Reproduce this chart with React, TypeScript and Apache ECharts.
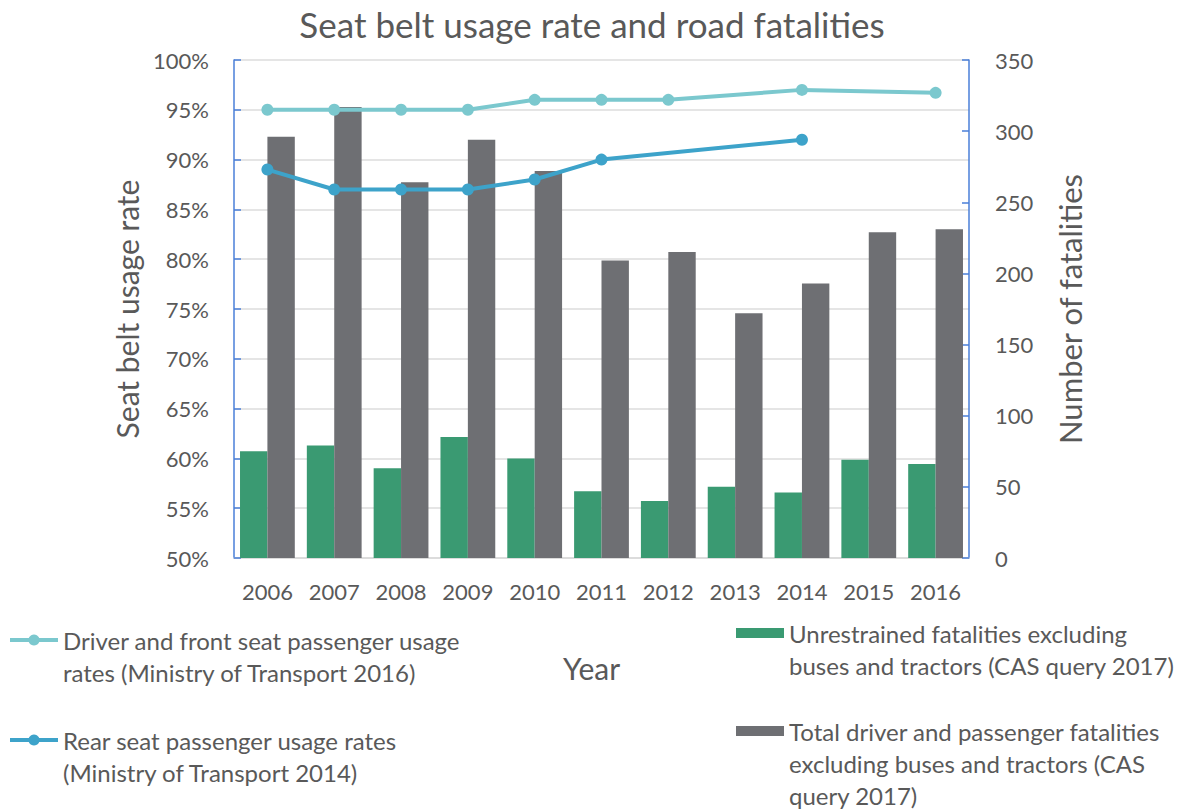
import React, { useEffect, useRef } from "react";
import * as echarts from "echarts";

const years = ["2006", "2007", "2008", "2009", "2010", "2011", "2012", "2013", "2014", "2015", "2016"];
const frontSeatRate = [95, 95, 95, 95, 96, 96, 96, null, 97, null, 96.7];
const rearSeatRate = [89, 87, 87, 87, 88, 90, null, null, 92, null, null];
const unrestrainedFatalities = [75, 79, 63, 85, 70, 47, 40, 50, 46, 69, 66];
const totalFatalities = [296, 317, 264, 294, 272, 209, 215, 172, 193, 229, 231];

const nameFront = "Driver and front seat passenger usage rates (Ministry of Transport 2016)";
const nameRear = "Rear seat passenger usage rates (Ministry of Transport 2014)";
const nameUnres = "Unrestrained fatalities excluding buses and tractors (CAS query 2017)";
const nameTotal = "Total driver and passenger fatalities excluding buses and tractors (CAS query 2017)";

const legendLines: Record<string, string[]> = {
  [nameFront]: ["Driver and front seat passenger usage", "rates (Ministry of Transport 2016)"],
  [nameRear]: ["Rear seat passenger usage rates", "(Ministry of Transport 2014)"],
  [nameUnres]: ["Unrestrained fatalities excluding", "buses and tractors (CAS query 2017)"],
  [nameTotal]: ["Total driver and passenger fatalities", "excluding buses and tractors (CAS", "query 2017)"],
};

const FONT = "Lato, 'Open Sans', sans-serif";
const TXT = "#595959";
const AXIS_BLUE = "#4A7FD9";
const LH = 32;
const FRONT_COLOR = "#7BC8CE";
const REAR_COLOR = "#3DA3CA";

function legendFor(name: string, left: number, iconCenterY: number, icon: string | undefined, w: number, h: number) {
  const lines = legendLines[name];
  const k = lines.length;
  const blanks = new Array(k - 1).fill(" ");
  return {
    data: [icon ? { name, icon } : { name }],
    left,
    top: iconCenterY - ((2 * k - 1) * LH) / 2,
    padding: 0,
    itemWidth: w,
    itemHeight: h,
    orient: "vertical",
    selectedMode: false,
    lineStyle: { width: 4 },
    formatter: () => [...blanks, ...lines].join("\n"),
    textStyle: {
      fontFamily: FONT,
      fontSize: 24,
      color: TXT,
      lineHeight: LH,
    },
  };
}

export default function App() {
  const ref = useRef<HTMLDivElement>(null);
  useEffect(() => {
    if (!ref.current) return;
    const chart = echarts.init(ref.current, undefined, { renderer: "svg" });
    chart.setOption({
      animation: false,
      backgroundColor: "#ffffff",
      textStyle: { fontFamily: FONT },
      title: {
        text: "Seat belt usage rate and road fatalities",
        left: "center",
        top: 1,
        textStyle: { fontFamily: FONT, fontSize: 35, fontWeight: "normal", color: TXT },
      },
      legend: [
        legendFor(nameFront, 8, 640, undefined, 48, 14),
        legendFor(nameRear, 8, 740, undefined, 48, 14),
        legendFor(nameUnres, 736, 633, "rect", 48, 10),
        legendFor(nameTotal, 736, 731, "rect", 48, 10),
      ],
      grid: { left: 234, right: 215, top: 60, bottom: 252, containLabel: false },
      xAxis: {
        type: "category",
        data: years,
        name: "Year",
        nameLocation: "middle",
        nameGap: 95,
        nameTextStyle: { fontFamily: FONT, fontSize: 30, color: TXT, padding: [0, 20, 0, 0] },
        axisLine: { lineStyle: { color: "#D9D9D9", width: 1.5 } },
        axisTick: { show: false },
        axisLabel: { interval: 0, fontFamily: FONT, fontSize: 22, color: TXT, margin: 22 },
      },
      yAxis: [
        {
          type: "value",
          min: 50,
          max: 100,
          interval: 5,
          name: "Seat belt usage rate",
          nameLocation: "middle",
          nameGap: 86,
          nameTextStyle: { fontFamily: FONT, fontSize: 30, color: TXT },
          axisLine: { show: true, lineStyle: { color: AXIS_BLUE, width: 1.5 } },
          axisTick: { show: true, inside: true, length: 7, lineStyle: { color: AXIS_BLUE, width: 1.5 } },
          axisLabel: { formatter: "{value}%", fontFamily: FONT, fontSize: 22, color: TXT, margin: 25 },
          splitLine: { show: true, lineStyle: { color: "#DDDDDD", width: 1.5 } },
        },
        {
          type: "value",
          min: 0,
          max: 350,
          interval: 50,
          position: "right",
          name: "Number of fatalities",
          nameLocation: "middle",
          nameGap: 85,
          nameRotate: 90,
          nameTextStyle: { fontFamily: FONT, fontSize: 31, color: TXT },
          axisLine: { show: true, lineStyle: { color: AXIS_BLUE, width: 1.5 } },
          axisTick: { show: true, inside: true, length: 7, lineStyle: { color: AXIS_BLUE, width: 1.5 } },
          axisLabel: { fontFamily: FONT, fontSize: 22, color: TXT, margin: 26 },
          splitLine: { show: false },
        },
      ],
      series: [
        {
          name: nameUnres,
          type: "bar",
          yAxisIndex: 1,
          data: unrestrainedFatalities,
          barGap: "0%",
          barCategoryGap: "18%",
          itemStyle: { color: "#3A9A72" },
          z: 2,
        },
        {
          name: nameTotal,
          type: "bar",
          yAxisIndex: 1,
          data: totalFatalities,
          barGap: "0%",
          barCategoryGap: "18%",
          itemStyle: { color: "#6E6F73" },
          z: 2,
        },
        {
          name: nameFront,
          type: "line",
          yAxisIndex: 0,
          data: frontSeatRate,
          connectNulls: true,
          symbol: "circle",
          symbolSize: 12,
          lineStyle: { color: FRONT_COLOR, width: 4 },
          itemStyle: { color: FRONT_COLOR },
          z: 5,
        },
        {
          name: nameRear,
          type: "line",
          yAxisIndex: 0,
          data: rearSeatRate,
          connectNulls: true,
          symbol: "circle",
          symbolSize: 12,
          lineStyle: { color: REAR_COLOR, width: 4 },
          itemStyle: { color: REAR_COLOR },
          z: 5,
        },
      ],
    });
    return () => chart.dispose();
  }, []);
  return (
    <div
      ref={ref}
      style={{ position: "fixed", left: 0, top: 0, width: 1184, height: 810, background: "#fff" }}
    />
  );
}
